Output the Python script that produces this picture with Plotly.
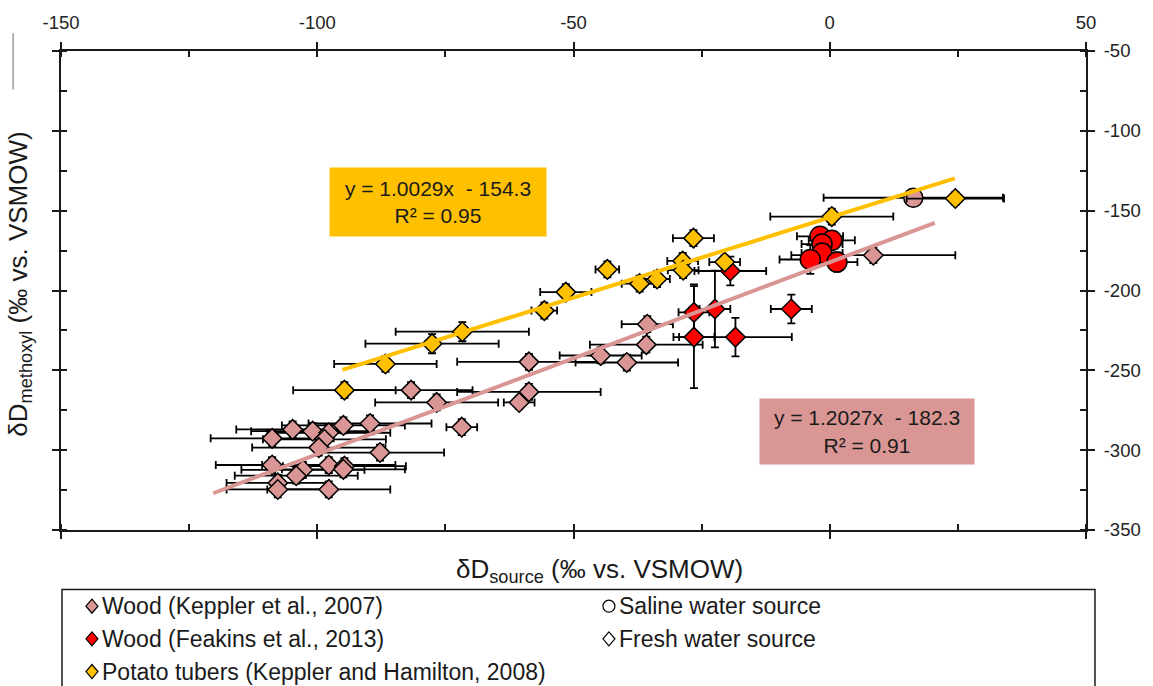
import plotly.graph_objects as go

# ---------------- data ----------------
# Wood (Keppler et al., 2007) - fresh water source (diamonds)
wood_k_x = [-108.8, -104.8, -100.9, -97.75, -98.6, -94.9, -89.7, -99.7, -87.75,
            -108.8, -97.75, -94.7, -94.9, -102.8, -104.1, -107.7, -107.7, -97.75,
            -81.7, -76.7, -71.8, -58.7, -58.7, -60.6, -44.7, -39.6, -35.6, -35.8, 8.5]
wood_k_y = [-292.6, -287.0, -288.1, -289.1, -293.2, -284.5, -283.3, -298.4, -301.5,
            -309.3, -309.3, -310.0, -312.0, -312.3, -316.0, -320.5, -324.6, -324.6,
            -262.4, -270.1, -285.6, -244.7, -263.5, -270.1, -240.7, -245.1, -221.1, -233.9, -177.9]
wood_k_xerr = [12, 11, 12, 12, 12, 12, 12, 13, 12.5,
               11, 13, 12, 12, 12, 12, 10, 10, 12,
               12, 12, 3, 14, 14, 3, 8, 10, 5, 11, 16]
wood_k_yerr = [5, 5, 5, 5, 5, 5, 5, 5, 5,
               5, 5, 5, 5, 5, 5, 5, 5, 5,
               5, 5, 5, 5, 5, 4, 5, 5, 5, 5, 5]

# Wood (Keppler et al., 2007) - saline water source (circle)
wood_k_sal_x = [16.3]
wood_k_sal_y = [-141.9]
wood_k_sal_xerr = [17.5]
wood_k_sal_yerr = [4]

# Wood (Feakins et al., 2013) - fresh water source (diamonds)
wood_f_x = [-19.4, -26.5, -26.5, -22.4, -18.4, -7.5]
wood_f_y = [-187.8, -213.7, -229.2, -211.6, -229.2, -211.6]
wood_f_xerr = [7, 3, 4, 3, 11, 4]
wood_f_yerr = [9, 17.5, 32, 24, 12, 9]

# Wood (Feakins et al., 2013) - saline water source (circles)
wood_f_sal_x = [-1.9, 0.4, -1.5, -1.5, -3.8, 1.4]
wood_f_sal_y = [-166.1, -168.6, -170.9, -176.5, -180.6, -182.2]
wood_f_sal_xerr = [4.5, 4.5, 4, 4, 6, 4]
wood_f_sal_yerr = [3, 3, 3, 3, 9, 6]

# Potato tubers (Keppler and Hamilton, 2008)
potato_x = [-94.7, -86.7, -77.6, -71.7, -55.7, -51.5, -43.4, -37.1, -33.7,
            -28.7, -28.6, -26.6, -20.5, 0.4, 24.5]
potato_y = [-262.4, -246.0, -233.3, -225.8, -212.6, -201.0, -186.8, -195.7, -192.8,
            -181.5, -187.3, -167.2, -182.2, -153.7, -142.4]
potato_xerr = [10, 10, 13, 13, 2.5, 5, 2.3, 3.5, 2.5, 3, 3, 4, 3, 12, 9.5]
potato_yerr = [5, 5, 6, 6, 5, 5, 5, 5, 5, 5, 5, 5, 4, 5, 4]

# trend lines (equations shown on chart) and their x extents
potato_fit = (1.0029, -154.3)
potato_fit_x = [-95.1, 24.4]
wood_fit = (1.2027, -182.3)
wood_fit_x = [-120.3, 20.5]

x_ticks = [-150, -100, -50, 0, 50]
x_ticktext = ["-150", "-100", "-50", "0", "50"]
y_ticks = [-50, -100, -150, -200, -250, -300, -350]
y_ticktext = ["-50", "-100", "-150", "-200", "-250", "-300", "-350"]

legend_labels = ["Wood (Keppler et al., 2007)", "Wood (Feakins et al., 2013)",
                 "Potato tubers (Keppler and Hamilton, 2008)",
                 "Saline water source", "Fresh water source"]

# ---------------- style ----------------
PINK = "#D99694"
RED = "#FF0000"
GOLD = "#FFC000"
AXIS = "#1a1a1a"
TXT = "#1a1a1a"
FONT = "Liberation Sans, Arial, sans-serif"

W, H = 1153, 686
L, R, T, B = 61, 1088, 46, 530


def px(xp):
    return (xp - L) / (R - L)


def py(yp):
    return (B - yp) / (B - T)


def err(arr):
    return dict(type="data", array=arr, visible=True, color="black", thickness=1.8, width=4)


fig = go.Figure()


def add_points(x, y, xe, ye, color, symbol, size):
    fig.add_trace(go.Scatter(
        x=x, y=y, mode="markers",
        marker=dict(symbol=symbol, size=size, color=color, line=dict(color="black", width=1.5)),
        error_x=err(xe), error_y=err(ye), showlegend=False, hoverinfo="x+y"))


add_points(wood_k_x, wood_k_y, wood_k_xerr, wood_k_yerr, PINK, "diamond", 15)
add_points(wood_k_sal_x, wood_k_sal_y, wood_k_sal_xerr, wood_k_sal_yerr, PINK, "circle", 19)
add_points(wood_f_x, wood_f_y, wood_f_xerr, wood_f_yerr, RED, "diamond", 15)
add_points(wood_f_sal_x, wood_f_sal_y, wood_f_sal_xerr, wood_f_sal_yerr, RED, "circle", 20)
add_points(potato_x, potato_y, potato_xerr, potato_yerr, GOLD, "diamond", 15)

for (m, c), xs, col in [(wood_fit, wood_fit_x, PINK), (potato_fit, potato_fit_x, GOLD)]:
    fig.add_trace(go.Scatter(x=xs, y=[m * v + c for v in xs], mode="lines",
                             line=dict(color=col, width=4), showlegend=False, hoverinfo="skip"))

tickfont = dict(family=FONT, size=18.5, color="#222222")
axis_common = dict(showline=True, linecolor=AXIS, linewidth=2, mirror="ticks",
                   ticks="outside", ticklen=7, tickwidth=2, tickcolor=AXIS,
                   showgrid=False, zeroline=False, tickfont=tickfont)

fig.update_layout(
    xaxis=dict(range=[-150, 50], side="top", tickvals=x_ticks, ticktext=x_ticktext,
               minor=dict(dtick=25, tick0=-150, ticks="inside", ticklen=6, tickwidth=1.5, tickcolor=AXIS),
               ticklabelstandoff=6, **axis_common),
    yaxis=dict(range=[-350, -50], side="right", tickvals=y_ticks, ticktext=y_ticktext,
               minor=dict(dtick=25, tick0=-350, ticks="inside", ticklen=6, tickwidth=1.5, tickcolor=AXIS),
               ticklabelstandoff=5, **axis_common),
    # overlay axes: inner half of the major ticks (ticks crossing the axis lines)
    xaxis2=dict(matches="x", overlaying="x", anchor="y", side="top", tickvals=x_ticks,
                showticklabels=False, ticks="inside", ticklen=7, tickwidth=2, tickcolor=AXIS,
                showline=False, mirror="ticks", showgrid=False, zeroline=False),
    yaxis2=dict(matches="y", overlaying="y", anchor="x", side="right", tickvals=y_ticks,
                showticklabels=False, ticks="inside", ticklen=7, tickwidth=2, tickcolor=AXIS,
                showline=False, mirror="ticks", showgrid=False, zeroline=False),
)

annotations = []
shapes = []


def note(xp, yp, text, size, **kw):
    d = dict(xref="paper", yref="paper", x=px(xp), y=py(yp), text=text, showarrow=False,
             xanchor="center", yanchor="middle", font=dict(family=FONT, size=size, color=TXT))
    d.update(kw)
    annotations.append(d)


# equation boxes
note(439, 199, "y = 1.0029x  - 154.3<br>R² = 0.95", 21, bgcolor=GOLD, width=214, height=66, align="center")
note(869, 430, "y = 1.2027x  - 182.3<br>R² = 0.91", 21, bgcolor=PINK, width=212, height=63, align="center")

# axis titles
note(601, 571, "δD<sub>source</sub> (‰ vs. VSMOW)", 26)
note(19, 282, "δD<sub>methoxyl</sub> (‰ vs. VSMOW)", 26, textangle=-90)

# legend box
shapes.append(dict(type="rect", xref="paper", yref="paper", x0=px(62), x1=px(1097),
                   y0=py(720), y1=py(590), line=dict(color=AXIS, width=1.5), fillcolor="rgba(0,0,0,0)"))

legend_items = [
    (92, 607, "diamond", PINK, legend_labels[0]),
    (92, 640, "diamond", RED, legend_labels[1]),
    (92, 673, "diamond", GOLD, legend_labels[2]),
    (610, 607, "circle", "white", legend_labels[3]),
    (610, 640, "diamond", "white", legend_labels[4]),
]
for xp, yp, sym, col, label in legend_items:
    if sym == "diamond":
        shapes.append(dict(type="path", xref="paper", yref="paper", xsizemode="pixel", ysizemode="pixel",
                           xanchor=px(xp), yanchor=py(yp), path="M -6 0 L 0 7 L 6 0 L 0 -7 Z",
                           fillcolor=col, line=dict(color="black", width=1.2)))
    else:
        shapes.append(dict(type="circle", xref="paper", yref="paper", xsizemode="pixel", ysizemode="pixel",
                           xanchor=px(xp), yanchor=py(yp), x0=-6, x1=6, y0=-6, y1=6,
                           fillcolor=col, line=dict(color="black", width=1.2)))
    note(xp + 8, yp, label, 23, xanchor="left")

# small stray vertical line at top-left of original figure
shapes.append(dict(type="line", xref="paper", yref="paper", x0=px(13), x1=px(13), y0=py(28), y1=py(85),
                   line=dict(color="#9a9a9a", width=1.5)))

fig.update_layout(width=W, height=H, margin=dict(l=L, r=W - R, t=T, b=H - B),
                  plot_bgcolor="white", paper_bgcolor="white",
                  annotations=annotations, shapes=shapes, showlegend=False,
                  font=dict(family=FONT))

fig.write_html("out.html")
